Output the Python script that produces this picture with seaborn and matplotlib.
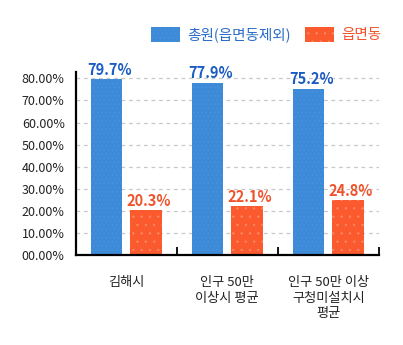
import matplotlib
matplotlib.use("Agg")
import matplotlib.pyplot as plt
import seaborn as sns
import pandas as pd
from matplotlib.patches import Patch

categories = ["김해시", "인구 50만\n이상시 평균", "인구 50만 이상\n구청미설치시\n평균"]
series_names = ["총원(읍면동제외)", "읍면동"]
total_values = [79.7, 77.9, 75.2]
eup_values = [20.3, 22.1, 24.8]
y_ticks = [0, 10, 20, 30, 40, 50, 60, 70, 80]
y_tick_labels = ["00.00%", "10.00%", "20.00%", "30.00%", "40.00%", "50.00%", "60.00%", "70.00%", "80.00%"]

bar_colors = ["#3d8ad8", "#fb5a2e"]
hatch_colors = ["#4d95dd", "#fd8a68"]
text_colors = ["#1a5bc4", "#f0522b"]
hatches = ["....", ".."]

sns.set_theme(style="white")
plt.rcParams['font.family'] = ['Noto Sans CJK KR', 'DejaVu Sans']
plt.rcParams['hatch.linewidth'] = 0.4

df = pd.DataFrame({
    "category": categories * 2,
    "series": [series_names[0]] * 3 + [series_names[1]] * 3,
    "value": total_values + eup_values,
})

fig = plt.figure(figsize=(4.03, 3.45), dpi=100)
ax = fig.add_axes([0.188, 0.2597, 0.752, 0.5328])

sns.barplot(data=df, x="category", y="value", hue="series", order=categories,
            hue_order=series_names, palette=bar_colors, width=0.78, gap=0.2,
            ax=ax, legend=False, linewidth=0, saturation=1)

for ci, cont in enumerate(ax.containers):
    for patch in cont:
        patch.set_hatch(hatches[ci])
        patch.set_edgecolor(hatch_colors[ci])
        patch.set_linewidth(0)
    vals = total_values if ci == 0 else eup_values
    for patch, v in zip(cont, vals):
        ax.annotate(f"{v}%", (patch.get_x() + patch.get_width() / 2, patch.get_height()),
                    xytext=(2, 1), textcoords="offset points", ha="center", va="bottom",
                    fontsize=10.5, fontweight="bold", color=text_colors[ci])

ax.set_xlim(-0.5, 2.5)
ax.set_ylim(0, 83)
ax.set_yticks(y_ticks)
ax.set_yticklabels(y_tick_labels, fontsize=9, color="#222222")
ax.tick_params(axis="y", length=0, pad=8)
ax.set_xticks(range(len(categories)))
ax.set_xticklabels(categories, fontsize=9.5, color="#222222", linespacing=1.25, va="top")
ax.tick_params(axis="x", which="major", length=0, pad=15)
ax.set_xticks([0.5, 1.5, 2.5], minor=True)
ax.tick_params(axis="x", which="minor", direction="in", length=6, width=1.3, color="black", bottom=True)
ax.set_xlabel("")
ax.set_ylabel("")

for y in y_ticks[1:]:
    ax.axhline(y, color="#c8c8c8", linestyle=(0, (3, 3)), linewidth=0.9, zorder=0)

for s in ["top", "right"]:
    ax.spines[s].set_visible(False)
for s in ["left", "bottom"]:
    ax.spines[s].set_color("black")
    ax.spines[s].set_linewidth(1.6)

handles = [Patch(facecolor=bar_colors[i], edgecolor=hatch_colors[i], linewidth=0,
                 hatch=hatches[i]) for i in range(2)]
leg = fig.legend(handles, series_names, loc="center right", bbox_to_anchor=(0.978, 0.9),
                 ncol=2, frameon=False, fontsize=10.5, handlelength=2.0, handleheight=1.2,
                 handletextpad=0.45, columnspacing=1.0, labelcolor=["#2a6cc8", "#f0522b"])

fig.savefig("out.png", dpi=100)
